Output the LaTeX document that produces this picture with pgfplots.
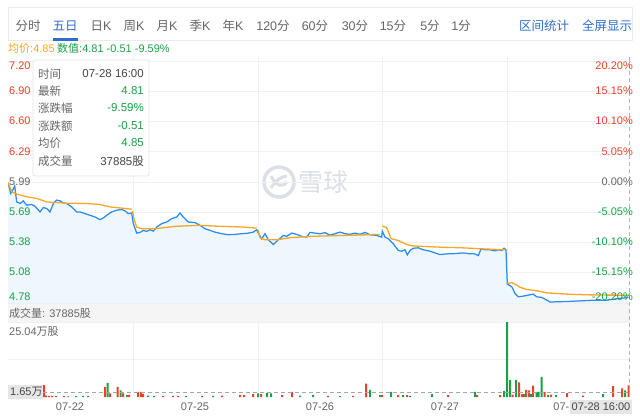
\documentclass[border=0pt]{standalone}
\usepackage{pgfplots}
\pgfplotsset{compat=1.18}
\usepackage{pgfplotstable}
\usepackage{fontspec}
\setmainfont{Liberation Sans}
\newfontfamily\cjk{Noto Sans CJK SC}
\newcommand\zh[1]{{\cjk #1}}
\newcommand\fs[1]{\fontsize{#1bp}{#1bp}\selectfont}
\definecolor{upred}{RGB}{232,65,44}
\definecolor{dngreen}{RGB}{26,160,70}
\definecolor{lineblue}{RGB}{40,140,240}
\definecolor{avgorange}{RGB}{247,166,40}
\definecolor{fillblue}{RGB}{238,246,254}
\definecolor{gridc}{RGB}{240,240,240}
\definecolor{txtgray}{RGB}{102,102,102}
\definecolor{dkgray}{RGB}{70,70,70}
\definecolor{tabblue}{RGB}{45,110,205}
\definecolor{bandgray}{RGB}{245,245,245}
\definecolor{boxgray}{RGB}{230,230,230}
\definecolor{wm}{RGB}{220,224,230}

\pgfplotstableread{
t p
0 5.985
2.7 5.876
4.7 5.909
6.7 5.950
8.7 5.791
12 5.775
15.3 5.801
18.7 5.758
23.7 5.765
27 5.748
32 5.691
35.3 5.735
38.7 5.725
42 5.691
45.3 5.775
48.7 5.809
52 5.802
55.3 5.781
58.7 5.775
63.7 5.741
68.7 5.691
72 5.691
77 5.674
82 5.657
87 5.640
92 5.614
95.3 5.630
98.7 5.657
103.7 5.691
108.7 5.708
113.7 5.715
117 5.701
120.3 5.674
123.7 5.681
125.3 5.574
128.7 5.479
132 5.486
135.3 5.506
138.7 5.496
142 5.513
145.3 5.499
148.7 5.539
153.7 5.574
158.7 5.590
163.7 5.624
168.7 5.640
172 5.681
175.3 5.640
180.3 5.590
187 5.584
192 5.557
197 5.523
202 5.506
207 5.489
213.7 5.473
220.3 5.463
227 5.466
233.7 5.473
240.3 5.479
245.3 5.489
248.7 5.513
250.3 5.479
253.7 5.422
257 5.473
260.3 5.412
265.3 5.365
270.3 5.412
275.3 5.456
278.7 5.446
283.7 5.479
288.7 5.466
293.7 5.446
298.7 5.439
302 5.486
307 5.479
312 5.473
317 5.483
322 5.459
327 5.473
332 5.489
337 5.473
342 5.466
347 5.479
352 5.466
357 5.486
362 5.463
368.7 5.456
373.7 5.439
374.3 5.499
377 5.439
380.3 5.422
385.3 5.372
390.3 5.305
393.7 5.298
397 5.312
399.3 5.261
402 5.305
405.3 5.328
410.3 5.332
415.3 5.312
422 5.298
427 5.281
432 5.264
438.7 5.271
447 5.274
455.3 5.281
460.3 5.274
467 5.271
470.3 5.254
473 5.322
477 5.312
482 5.312
487 5.302
490.3 5.312
493.7 5.305
496 5.328
498 5.312
499.3 4.970
503.7 4.943
507 4.876
510.3 4.842
515.3 4.849
520.3 4.859
525.3 4.869
528.7 4.842
533.7 4.836
540.3 4.801
542 4.790
548.7 4.792
558.7 4.795
572 4.801
585.3 4.808
598.7 4.808
608.7 4.823
615.3 4.830
620.3 4.835
}\pricedata

\begin{document}
\begin{tikzpicture}
\path[use as bounding box, fill=white] (0bp,0bp) rectangle (640bp,-420bp);
\begin{scope}[x=1bp,y=-1bp]
  % tab bar
  \draw[color=black!8, line width=0.8bp] (8,7) rectangle (632,40);
  \fill[tabblue] (53,38) rectangle (78,40.5);
  \begin{scope}[every node/.style={inner sep=0pt, font=\fs{12.5}, text=txtgray}]
    \node at (28,26) {\zh{分时}};
    \node[text=tabblue] at (65,26) {\zh{五日}};
    \node at (101,26) {\zh{日}K};
    \node at (134,26) {\zh{周}K};
    \node at (167,26) {\zh{月}K};
    \node at (200,26) {\zh{季}K};
    \node at (233,26) {\zh{年}K};
    \node at (273,26) {120\zh{分}};
    \node at (315,26) {60\zh{分}};
    \node at (355,26) {30\zh{分}};
    \node at (393,26) {15\zh{分}};
    \node at (430,26) {5\zh{分}};
    \node at (461,26) {1\zh{分}};
    \node[text=tabblue] at (544,26) {\zh{区间统计}};
    \node[text=tabblue] at (607,26) {\zh{全屏显示}};
  \end{scope}
  % second line
  \node[anchor=west, inner sep=0pt, font=\fs{11}, text=avgorange] at (8,48) {\zh{均价}:4.85};
  \node[anchor=west, inner sep=0pt, font=\fs{11}, text=dngreen] at (57,48) {\zh{数值}:4.81 -0.51 -9.59\%};
  % watermark
  \draw[wm, line width=3.5bp] (279,182) circle (15);
  \draw[wm, line width=3bp] (271,176) .. controls (276,186) and (282,188) .. (287,182);
  \draw[wm, line width=3bp] (271,188) .. controls (276,180) and (282,176) .. (287,176);
  \node[anchor=west, inner sep=0pt, font=\fs{25}\cjk, text=wm] at (298,182) {雪球};
  % volume band
  \fill[bandgray] (8,303) rectangle (630,322);
\end{scope}

% price axis
\begin{axis}[at={(8bp,-303bp)}, anchor=south west, scale only axis,
  width=622bp, height=246bp,
  xmin=0, xmax=622, ymin=4.78, ymax=7.24,
  axis line style={draw=none}, tick style={draw=none},
  xtick={125,250,374,499},
  ytick={4.78,5.0825,5.385,5.6875,5.99,6.2925,6.595,6.8975,7.2},
  xticklabels={}, yticklabels={},
  grid=major, major grid style={gridc, line width=0.6bp}]
  \addplot[draw=none, fill=fillblue] table[x=t, y=p] {\pricedata} \closedcycle;
  \addplot[lineblue, line width=1.25bp] table[x=t, y=p] {\pricedata};
  \addplot[avgorange, line width=1.3bp] coordinates {(0,5.985)(3.7,5.892)(8.7,5.869)(18.7,5.842)(28.7,5.826)(38.7,5.791)(58.7,5.778)(78.7,5.775)(92,5.765)(102,5.741)(123.7,5.718)};
  \addplot[avgorange, line width=1.3bp] coordinates {(124.5,5.700)(126.3,5.607)(128.7,5.540)(133.7,5.523)(147,5.523)(167,5.546)(190.3,5.557)(213.7,5.546)(233.7,5.540)(248.7,5.529)};
  \addplot[avgorange, line width=1.3bp] coordinates {(250,5.513)(252,5.433)(257,5.412)(268.7,5.412)(282,5.433)(302,5.446)(325.3,5.453)(348.7,5.459)(372,5.466)};
  \addplot[avgorange, line width=1.3bp] coordinates {(374.3,5.550)(378.7,5.533)(383,5.423)(390.3,5.405)(397,5.372)(403.7,5.352)(417,5.345)(433.7,5.338)(453.7,5.332)(473.7,5.322)(497,5.312)};
  \addplot[avgorange, line width=1.3bp] coordinates {(499.3,4.977)(503.7,4.983)(508.7,4.960)(512,4.937)(518.7,4.916)(528.7,4.902)(538.7,4.882)(558.7,4.869)(578.7,4.862)(598.7,4.859)(620.3,4.858)};
\end{axis}

% volume axis
\begin{axis}[at={(8bp,-397bp)}, anchor=south west, scale only axis,
  width=622bp, height=75bp,
  xmin=0, xmax=622, ymin=0, ymax=25.04,
  axis line style={draw=none}, tick style={draw=none},
  xtick={125,250,374,499}, ytick={12.52,25.04},
  xticklabels={}, yticklabels={},
  grid=major, major grid style={gridc, line width=0.6bp}]
  \addplot[ybar, bar width=2, bar shift=0pt, fill=upred, draw=none] coordinates {
    (36,4.0)(38,0.5)(41,0.4)(44,0.4)(48,0.3)(56,0.3)(97,3.4)(102,1.2)(109.5,3.4)(115,1.2)(121,0.7)(130,1.7)(133,1.7)(135,1.0)(155,0.3)(165,0.4)(170,0.3)(194,0.4)(214,0.5)(232,0.7)(236,0.6)(245,1.0)(253,1.0)(274,0.6)(284,1.7)(320,0.4)(345,0.4)(358,4.5)(374,0.7)(390,0.6)(399,0.6)(440,0.6)(469,0.6)(492,0.6)(504.5,0.8)(511,4.9)(514,1.0)(518,2.4)(521,2.2)(525,3.8)(536.5,1.7)(543,0.8)(559,1.3)(575,0.5)(605,3.6)(614,2.9)(620.5,3.9)};
  \addplot[ybar, bar width=2, bar shift=0pt, fill=dngreen, draw=none] coordinates {
    (60,0.2)(68,0.3)(75,0.3)(80,0.3)(99.5,4.7)(112.5,2.2)(119,0.6)(140,0.5)(146,0.4)(178,0.3)(205,0.4)(250,1.2)(259,1.3)(263,1.2)(292,0.5)(305,0.7)(332,0.3)(362,2.4)(372,0.6)(383,1.7)(395,0.6)(402,0.4)(424,1.0)(467,1.7)(496,2.0)(499,25.04)(502,5.7)(508,5.7)(516,1.0)(523,1.0)(528.5,1.7)(530.5,1.7)(533.5,6.7)(540,0.7)(548,0.6)(595,1.0)(617,2.2)};
  \draw[black!35, dash pattern=on 4bp off 3bp, line width=0.7bp] (axis cs:35,1.65) -- (axis cs:622,1.65);
\end{axis}

\begin{scope}[x=1bp,y=-1bp]
  % crosshair vertical
  \draw[black!30, dash pattern=on 4bp off 3bp, line width=0.9bp] (629,57) -- (629,397);
  % left price labels
  \begin{scope}[every node/.style={anchor=west, inner sep=0pt, font=\fs{11}}]
    \node[text=upred] at (9,66) {7.20};
    \node[text=upred] at (9,91) {6.90};
    \node[text=upred] at (9,121) {6.60};
    \node[text=upred] at (9,152) {6.29};
    \node[text=txtgray] at (9,182) {5.99};
    \node[text=dngreen] at (9,212) {5.69};
    \node[text=dngreen] at (9,242) {5.38};
    \node[text=dngreen] at (9,272) {5.08};
    \node[text=dngreen] at (9,297) {4.78};
  \end{scope}
  \begin{scope}[every node/.style={anchor=east, inner sep=0pt, font=\fs{11}}]
    \node[text=upred] at (633,66) {20.20\%};
    \node[text=upred] at (633,91) {15.15\%};
    \node[text=upred] at (633,121) {10.10\%};
    \node[text=upred] at (633,152) {5.05\%};
    \node[text=txtgray] at (633,182) {0.00\%};
    \node[text=dngreen] at (633,212) {-5.05\%};
    \node[text=dngreen] at (633,242) {-10.10\%};
    \node[text=dngreen] at (633,272) {-15.15\%};
    \node[text=dngreen] at (633,297) {-20.20\%};
  \end{scope}
  % info box
  \filldraw[fill=white, draw=black!10, line width=0.7bp, rounded corners=2bp] (33,60) rectangle (149,176);
  \begin{scope}[every node/.style={inner sep=0pt, font=\fs{11.5}}]
    \node[anchor=west, text=txtgray] at (38,74) {\zh{时间}};
    \node[anchor=west, text=txtgray] at (38,91) {\zh{最新}};
    \node[anchor=west, text=txtgray] at (38,108) {\zh{涨跌幅}};
    \node[anchor=west, text=txtgray] at (38,126) {\zh{涨跌额}};
    \node[anchor=west, text=txtgray] at (38,143) {\zh{均价}};
    \node[anchor=west, text=txtgray] at (38,161) {\zh{成交量}};
    \node[anchor=east, text=dkgray] at (144,74) {07-28 16:00};
    \node[anchor=east, text=dngreen] at (144,91) {4.81};
    \node[anchor=east, text=dngreen] at (144,108) {-9.59\%};
    \node[anchor=east, text=dngreen] at (144,126) {-0.51};
    \node[anchor=east, text=dngreen] at (144,143) {4.85};
    \node[anchor=east, text=dkgray] at (144,161) {37885\zh{股}};
  \end{scope}
  % volume texts
  \node[anchor=west, inner sep=0pt, font=\fs{11}, text=txtgray] at (9,313) {\zh{成交量}: 37885\zh{股}};
  \node[anchor=west, inner sep=0pt, font=\fs{11}, text=txtgray] at (9,332) {25.04\zh{万股}};
  \fill[boxgray] (8,385) rectangle (43,399);
  \node[anchor=west, inner sep=0pt, font=\fs{11}, text=dkgray] at (10,392) {1.65\zh{万}};
  % x labels
  \begin{scope}[every node/.style={inner sep=0pt, font=\fs{11}, text=txtgray}]
    \node at (70,407) {07-22};
    \node at (195,407) {07-25};
    \node at (320,407) {07-26};
    \node at (445,407) {07-27};
    \node[anchor=east] at (569.5,407) {07-};
  \end{scope}
  \fill[boxgray] (570,400) rectangle (632,414);
  \node[inner sep=0pt, font=\fs{11}, text=dkgray] at (601,407) {07-28 16:00};
\end{scope}
\end{tikzpicture}
\end{document}
